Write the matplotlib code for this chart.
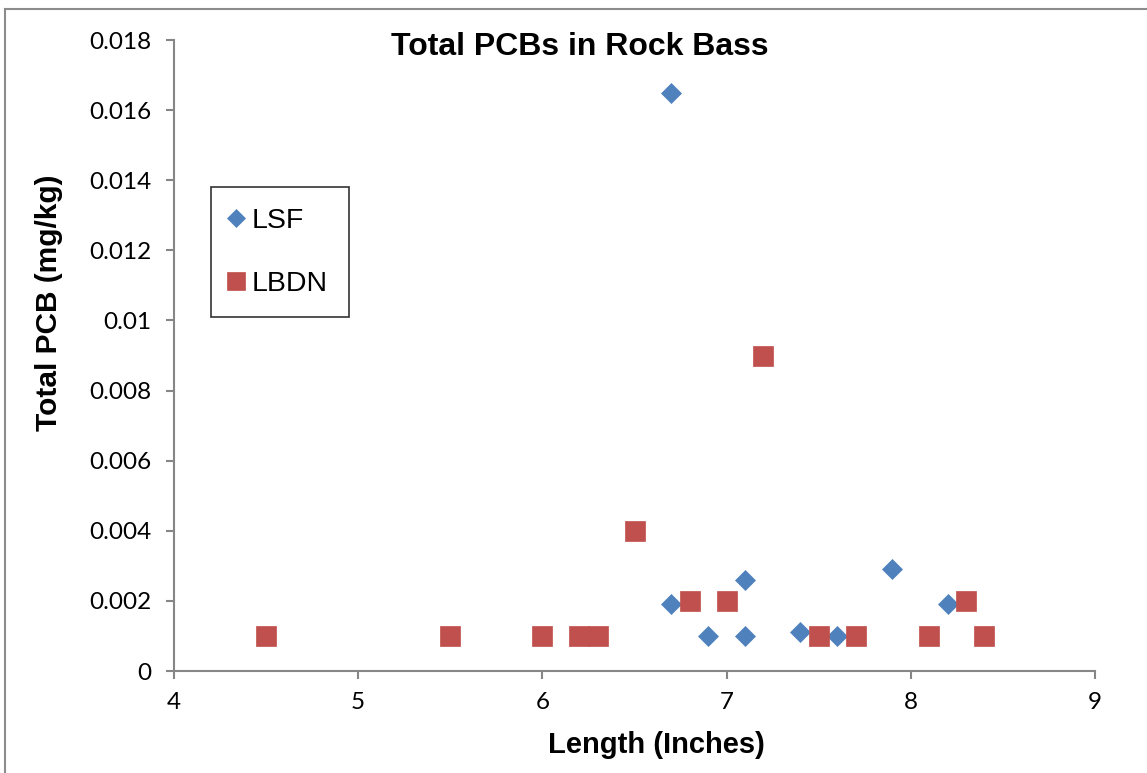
import matplotlib
matplotlib.use("Agg")
import matplotlib.pyplot as plt
from matplotlib.lines import Line2D

# LSF fish: length (in) and total PCB (mg/kg)
lsf_len = [6.7, 6.7, 6.9, 7.1, 7.1, 7.4, 7.6, 7.9, 8.2]
lsf_pcb = [0.0165, 0.0019, 0.001, 0.0026, 0.001, 0.0011, 0.001, 0.0029, 0.0019]

# LBDN fish
lbdn_len = [4.5, 5.5, 6.0, 6.2, 6.3, 6.5, 6.8, 7.0, 7.2, 7.5, 7.7, 8.1, 8.3, 8.4]
lbdn_pcb = [0.001, 0.001, 0.001, 0.001, 0.001, 0.004, 0.002, 0.002, 0.009,
            0.001, 0.001, 0.001, 0.002, 0.001]

xticks = [4, 5, 6, 7, 8, 9]
yticks = [0, 0.002, 0.004, 0.006, 0.008, 0.01, 0.012, 0.014, 0.016, 0.018]
ytick_labels = ['0', '0.002', '0.004', '0.006', '0.008', '0.01',
                '0.012', '0.014', '0.016', '0.018']

blue = '#4F81BD'
red = '#C0504D'
axis_gray = '#868686'

W, H = 1147, 773
fig = plt.figure(figsize=(W / 100, H / 100), dpi=100)
ax = fig.add_axes([174 / W, 102 / H, 921 / W, 631 / H])

ax.plot(lsf_len, lsf_pcb, linestyle='none', marker='D', ms=10.2,
        color=blue, mec=blue, mew=0.5, label='LSF', clip_on=False, zorder=3)
ax.plot(lbdn_len, lbdn_pcb, linestyle='none', marker='s', ms=14.2,
        color=red, mec=red, mew=0.5, label='LBDN', clip_on=False, zorder=3)

ax.set_xlim(4, 9)
ax.set_ylim(0, 0.018)
ax.set_xticks(xticks)
ax.set_xticklabels([str(v) for v in xticks])
ax.set_yticks(yticks)
ax.set_yticklabels(ytick_labels)

for s in ['top', 'right']:
    ax.spines[s].set_visible(False)
for s in ['left', 'bottom']:
    ax.spines[s].set_color(axis_gray)
    ax.spines[s].set_linewidth(1.5)

ax.tick_params(axis='both', direction='out', length=6, width=1.5,
               color=axis_gray, labelsize=17.5, labelcolor='black')
ax.tick_params(axis='y', pad=10)
ax.tick_params(axis='x', pad=9)
for lab in ax.get_xticklabels() + ax.get_yticklabels():
    lab.set_family('Lato')

fig.text(580 / W, 1 - 47 / H, 'Total PCBs in Rock Bass', ha='center',
         va='center', fontsize=23, fontweight='bold', family='Liberation Sans')
fig.text(656 / W, 1 - 745 / H, 'Length (Inches)', ha='center',
         va='center', fontsize=21, fontweight='bold', family='Liberation Sans')
fig.text(49 / W, 1 - 303 / H, 'Total PCB (mg/kg)', ha='center',
         va='center', rotation=90, fontsize=21.5, fontweight='bold',
         family='Liberation Sans')

leg = ax.legend(loc='upper left', bbox_to_anchor=(211 / W, 1 - 187 / H),
                bbox_transform=fig.transFigure, borderaxespad=0,
                frameon=True, fancybox=False, borderpad=0.72,
                handlelength=0.3, handletextpad=0.42, labelspacing=1.3,
                prop={'family': 'Liberation Sans', 'size': 20.5})
leg.get_frame().set_edgecolor('black')
leg.get_frame().set_linewidth(1.2)
for h in leg.legend_handles:
    h.set_markersize(h.get_markersize() * 0.9)

# outer chart border (gray, left and top)
fig.add_artist(Line2D([5 / W, 5 / W], [0, 1 - 9 / H], transform=fig.transFigure,
                      color='#8c8c8c', lw=1.5))
fig.add_artist(Line2D([5 / W, 1], [1 - 9 / H, 1 - 9 / H], transform=fig.transFigure,
                      color='#8c8c8c', lw=1.5))

fig.savefig('out.png', dpi=100)
